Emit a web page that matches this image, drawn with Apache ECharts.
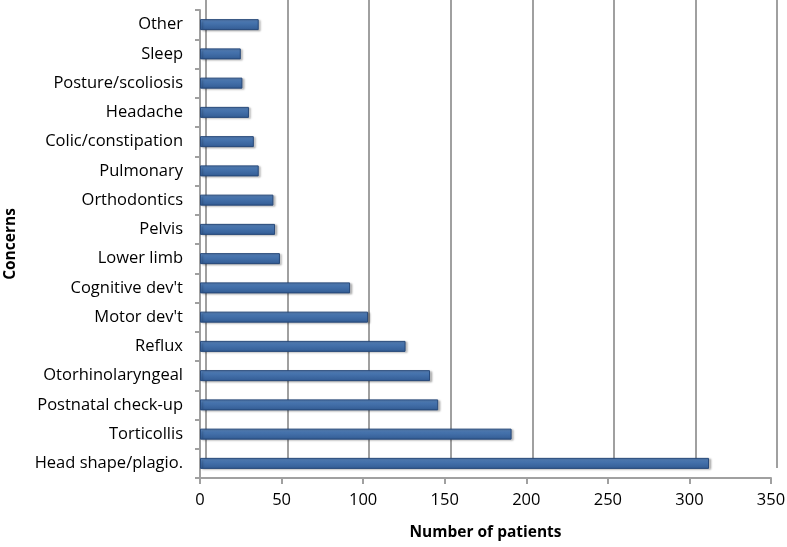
<!DOCTYPE html>
<html>
<head>
<meta charset="utf-8">
<script src="https://cdn.jsdelivr.net/npm/echarts@6/dist/echarts.min.js"></script>
<style>
  html, body { margin: 0; padding: 0; background: #fff; }
  #chart { width: 787px; height: 547px; }
</style>
</head>
<body>
<div id="chart"></div>
<script>
// categories bottom -> top
const concerns = ['Head shape/plagio.', 'Torticollis', 'Postnatal check-up', 'Otorhinolaryngeal',
  'Reflux', "Motor dev't", "Cognitive dev't", 'Lower limb', 'Pelvis', 'Orthodontics',
  'Pulmonary', 'Colic/constipation', 'Headache', 'Posture/scoliosis', 'Sleep', 'Other'];
const patients = [312, 191, 146, 141, 126, 103, 92, 49, 46, 45, 36, 33, 30, 26, 25, 36];
const xTicks = [0, 50, 100, 150, 200, 250, 300, 350];

const font = 'Open Sans';
const chart = echarts.init(document.getElementById('chart'));

chart.setOption({
  animation: false,
  textStyle: { fontFamily: font },
  grid: [
    // front plane: bars, labels, floor
    { left: 200, right: 16, top: 10, bottom: 69, outerBoundsMode: 'none', containLabel: false },
    // back wall: gridlines
    { left: 206, right: 10, top: 0, bottom: 79, outerBoundsMode: 'none', containLabel: false }
  ],
  xAxis: [
    {
      gridIndex: 0,
      type: 'value',
      min: xTicks[0],
      max: xTicks[xTicks.length - 1],
      interval: 50,
      name: 'Number of patients',
      nameLocation: 'middle',
      nameGap: 47,
      nameTextStyle: { fontFamily: font, fontWeight: 'bold', fontSize: 15.5, color: '#000' },
      axisLine: { show: true, lineStyle: { color: '#a0a0a0', width: 2 } },
      axisTick: { show: true, length: 6, inside: false, lineStyle: { color: '#a0a0a0', width: 2 } },
      axisLabel: { fontSize: 16.5, color: '#000', margin: 14 },
      splitLine: { show: false }
    },
    {
      gridIndex: 1,
      type: 'value',
      min: xTicks[0],
      max: xTicks[xTicks.length - 1],
      interval: 50,
      axisLine: { show: false },
      axisTick: { show: false },
      axisLabel: { show: false },
      splitLine: { show: true, lineStyle: { color: '#a0a0a0', width: 2 } }
    }
  ],
  yAxis: [
    {
      gridIndex: 0,
      type: 'category',
      data: concerns,
      name: 'Concerns',
      nameLocation: 'middle',
      nameGap: 181,
      nameTextStyle: { fontFamily: font, fontWeight: 'bold', fontSize: 15.5, color: '#000' },
      axisLine: { show: true, lineStyle: { color: '#a0a0a0', width: 2 } },
      axisTick: { show: true, length: 5, lineStyle: { color: '#a0a0a0', width: 2 } },
      axisLabel: { fontSize: 16.5, color: '#000', margin: 17 }
    },
    {
      gridIndex: 1,
      type: 'category',
      data: concerns,
      show: false
    }
  ],
  series: [
    {
      type: 'bar',
      xAxisIndex: 0,
      yAxisIndex: 0,
      data: patients,
      barWidth: 11,
      itemStyle: {
        color: new echarts.graphic.LinearGradient(0, 0, 0, 1, [
          { offset: 0, color: '#5f8bc4' },
          { offset: 0.35, color: '#4673ad' },
          { offset: 1, color: '#335c94' }
        ]),
        borderColor: '#27497a',
        borderWidth: 1,
        shadowColor: 'rgba(0,0,0,0.25)',
        shadowOffsetX: 2,
        shadowOffsetY: 1,
        shadowBlur: 2
      }
    }
  ]
});
</script>
</body>
</html>
